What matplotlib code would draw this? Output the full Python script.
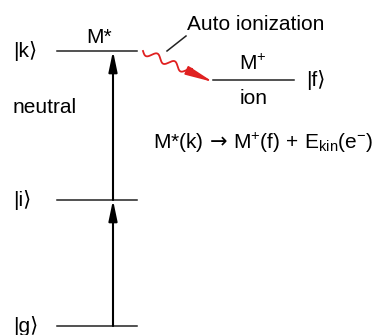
import numpy as np
import matplotlib.pyplot as plt

plt.rcParams['font.family'] = ['Liberation Sans', 'DejaVu Sans']
plt.rcParams['mathtext.fontset'] = 'custom'
plt.rcParams['mathtext.rm'] = 'Liberation Sans'
plt.rcParams['mathtext.it'] = 'Liberation Sans'
plt.rcParams['mathtext.sf'] = 'DejaVu Sans'

# neutral levels (arbitrary energy units) and the ion level
level_labels = ['|g\u27e9', '|i\u27e9', '|k\u27e9']
level_energy = [0, 126, 275]
ion_label = '|f\u27e9'
ion_energy = 246
transitions = [(0, 1), (1, 2)]

red = '#e02020'
fs = 15

fig = plt.figure(figsize=(3.8, 3.35), dpi=100)
ax = fig.add_axes([0, 0, 1, 1])
ax.set_xlim(0, 380)
ax.set_ylim(-9, 326)
ax.axis('off')

# neutral levels
for lab, e in zip(level_labels, level_energy):
    ax.plot([57, 137], [e, e], color='#222222', lw=1.1)
    ax.text(13, e, lab, fontsize=fs, ha='left', va='center')

# ion level
ax.plot([213, 294], [ion_energy, ion_energy], color='#222222', lw=1.1)
ax.text(306, ion_energy, ion_label, fontsize=fs, ha='left', va='center')

# excitation arrows
for a, b in transitions:
    ax.annotate('', xy=(113, level_energy[b]), xytext=(113, level_energy[a]),
                arrowprops=dict(arrowstyle='-|>,head_length=0.62,head_width=0.13',
                                mutation_scale=20, color='black', lw=1.5,
                                shrinkA=0, shrinkB=0))

# auto ionization wavy arrow
x0, y0 = 143, level_energy[2]
x1, y1 = 213, ion_energy - 2
t = np.linspace(0, 1, 200)
dx, dy = x1 - x0, y1 - y0
L = np.hypot(dx, dy)
nx, ny = -dy / L, dx / L
frac = 0.68
tw = t * frac
wave = -3.5 * np.sin(2 * np.pi * 2.75 * t)
ax.plot(x0 + dx * tw + nx * wave, y0 + dy * tw + ny * wave, color=red, lw=1.3)
ax.annotate('', xy=(x1, y1), xytext=(x0 + dx * frac, y0 + dy * frac),
            arrowprops=dict(arrowstyle='-|>,head_length=0.85,head_width=0.14',
                            mutation_scale=20, color=red, lw=1.2,
                            shrinkA=0, shrinkB=0))

# labels
ax.text(99, 283, 'M*', fontsize=fs, ha='center', va='baseline')
ax.text(13, 213, 'neutral', fontsize=fs, ha='left', va='baseline')
ax.text(187, 296, 'Auto ionization', fontsize=fs, ha='left', va='baseline')
ax.plot([167, 186], [275, 290], color='#222222', lw=1.1)
ax.text(253, 256, 'M$^{+}$', fontsize=fs, ha='center', va='baseline')
ax.text(254, 222, 'ion', fontsize=fs, ha='center', va='baseline')
ax.text(153, 177, r'M*(k)$\,\mathsf{\rightarrow}\,$M$^{+}$(f)$\,+\,$E$_{\rm kin}$(e$^{-}$)',
        fontsize=fs, ha='left', va='baseline')

fig.savefig('out.png', dpi=100)
